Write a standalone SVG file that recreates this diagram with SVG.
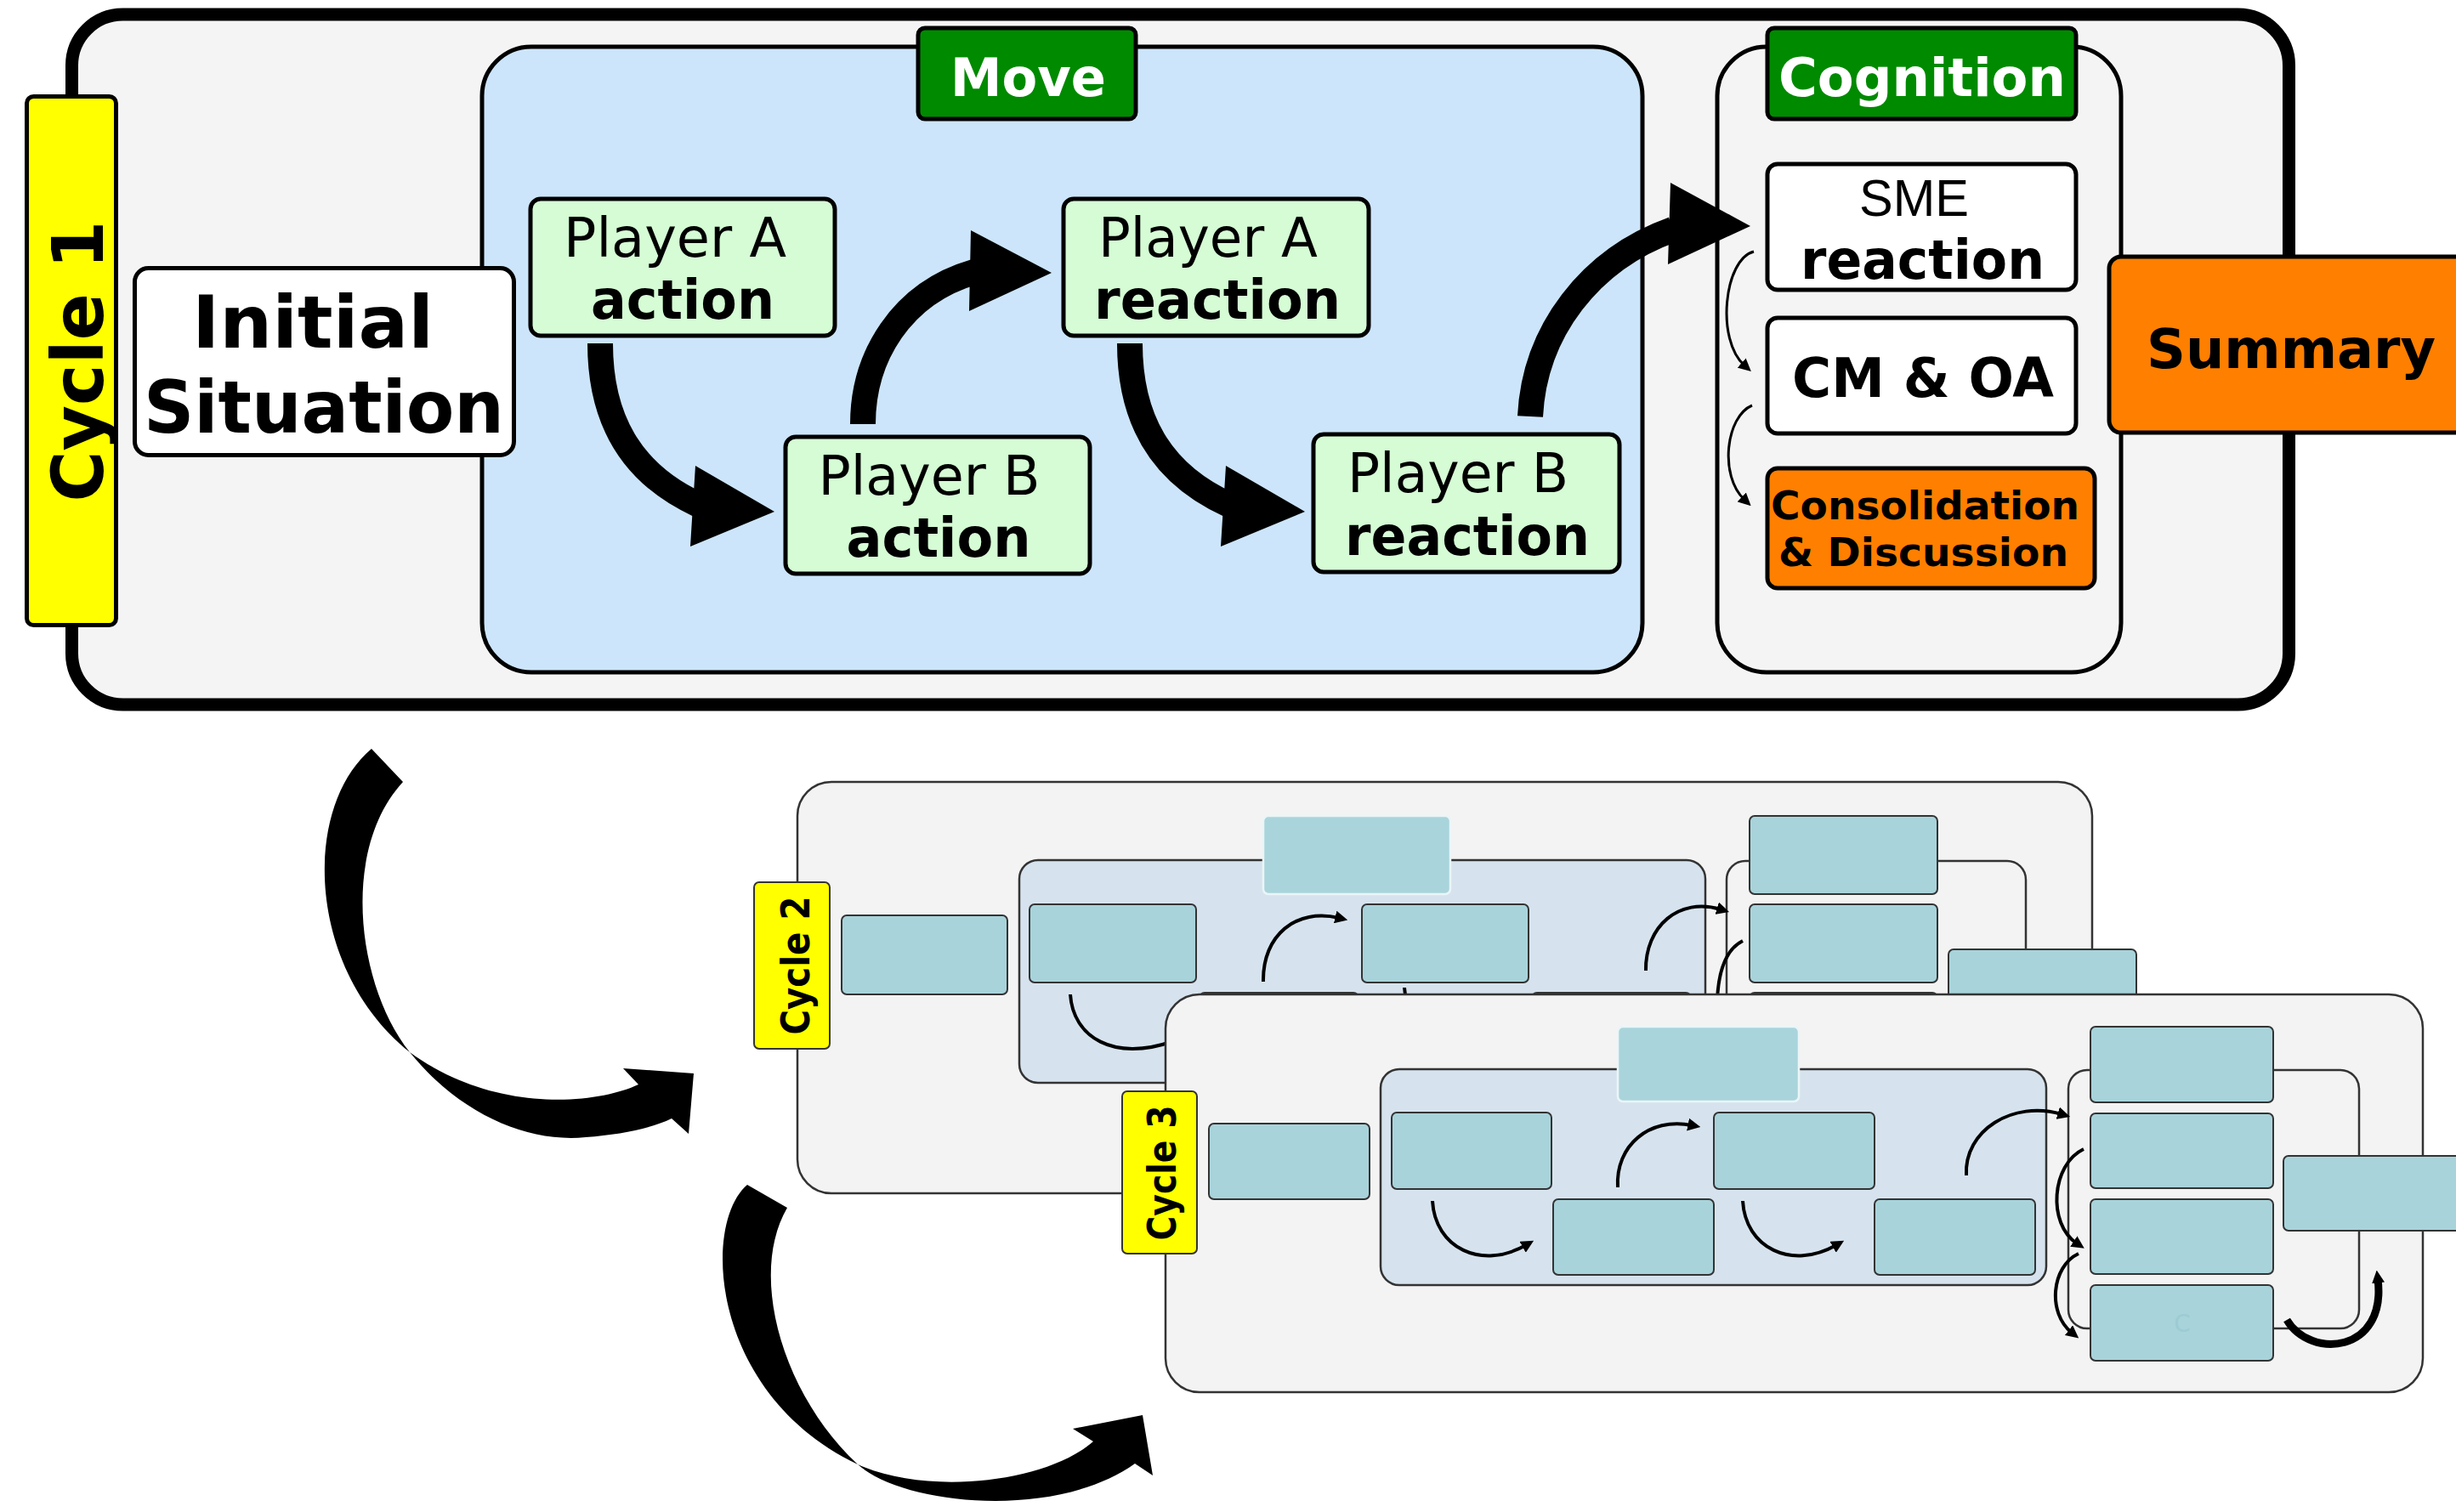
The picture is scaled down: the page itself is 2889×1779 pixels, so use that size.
<svg xmlns="http://www.w3.org/2000/svg" width="2889" height="1779" viewBox="0 0 2889 1779">
  <style>
    .bold { font-family: "DejaVu Sans", "Liberation Sans", sans-serif; font-weight: bold; fill: #000; text-anchor: middle; }
    .reg { font-family: "DejaVu Sans", "Liberation Sans", sans-serif; font-weight: normal; fill: #000; text-anchor: middle; }
    .arial { font-family: "Liberation Sans", Arial, sans-serif; font-weight: normal; fill: #000; text-anchor: middle; }
    .white { fill: #fff; }
    .frame { fill: #f4f4f4; stroke: #000; }
    .move { fill: #cce5fa; stroke: #000; stroke-width: 5; }
    .player { fill: #d5fcd5; stroke: #000; stroke-width: 5; }
    .label { fill: #008a00; stroke: #000; stroke-width: 5; }
    .plain { fill: #fff; stroke: #000; stroke-width: 5; }
    .orange { fill: #ff7f00; stroke: #000; stroke-width: 5; }
    .tab { fill: #ffff00; stroke: #000; stroke-width: 5; }
    .shaft { fill: none; stroke: #000; stroke-width: 30; }
    .head { fill: #000; }
    .thin { fill: none; stroke: #000; stroke-width: 3; marker-end: url(#tip); }
    .mini-frame { fill: #f3f3f3; stroke: #333; stroke-width: 2.5; }
    .mini-move { fill: #d6e3ee; stroke: #333; stroke-width: 2.5; }
    .mini-box { fill: #a8d3db; stroke: #333; stroke-width: 2; }
    .mini-soft { fill: #aad4dc; stroke: #eaf5f7; stroke-width: 2.5; }
    .mini-tab { fill: #ffff00; stroke: #333; stroke-width: 2; }
    .mini-arrow { fill: none; stroke: #000; stroke-width: 4; marker-end: url(#tip); }
  </style>
  <defs>
    <marker id="tip" viewBox="0 0 10 10" refX="3" refY="5" markerWidth="15" markerHeight="15" markerUnits="userSpaceOnUse" orient="auto">
      <path d="M0,0 L10,5 L0,10 z" fill="#000"/>
    </marker>
  </defs>

  <rect width="2889" height="1779" fill="#fff"/>

  <!-- ===== Cycle 1 (full detail) ===== -->
  <g id="cycle1">
    <rect class="frame" x="84.5" y="17" width="2608" height="812" rx="60" stroke-width="15"/>
  </g>
  <g id="cycle1-tab">
    <rect class="tab" x="31.5" y="113.5" width="105" height="622" rx="8"/>
    <text class="bold" font-size="84" transform="translate(121,425) rotate(-90)" textLength="331" lengthAdjust="spacingAndGlyphs">Cycle 1</text>
  </g>
  <g id="move">
    <rect class="move" x="567" y="55" width="1365" height="736" rx="58"/>
  </g>
  <g id="initial-situation">
    <rect class="plain" x="158.5" y="315.5" width="446" height="220" rx="16"/>
    <text class="bold" font-size="86" x="368" y="409" textLength="284" lengthAdjust="spacingAndGlyphs">Initial</text>
    <text class="bold" font-size="86" x="381" y="509" textLength="424" lengthAdjust="spacingAndGlyphs">Situation</text>
  </g>
  <g id="move-label">
    <rect class="label" x="1080" y="33" width="256" height="107" rx="8"/>
    <text class="bold white" font-size="62" x="1209.5" y="113" textLength="183" lengthAdjust="spacingAndGlyphs">Move</text>
  </g>
  <g id="player-a-action">
    <rect class="player" x="624" y="234" width="358" height="161" rx="12"/>
    <text class="reg" font-size="64" x="794" y="302" textLength="262" lengthAdjust="spacingAndGlyphs">Player A</text>
    <text class="bold" font-size="64" x="803" y="375" textLength="216" lengthAdjust="spacingAndGlyphs">action</text>
  </g>
  <g id="player-b-action">
    <rect class="player" x="924" y="514" width="358" height="161" rx="12"/>
    <text class="reg" font-size="64" x="1093" y="582" textLength="261" lengthAdjust="spacingAndGlyphs">Player B</text>
    <text class="bold" font-size="64" x="1104" y="655" textLength="217" lengthAdjust="spacingAndGlyphs">action</text>
  </g>
  <g id="player-a-reaction">
    <rect class="player" x="1251" y="234" width="359" height="161" rx="12"/>
    <text class="reg" font-size="64" x="1421" y="302" textLength="258" lengthAdjust="spacingAndGlyphs">Player A</text>
    <text class="bold" font-size="64" x="1432" y="375" textLength="290" lengthAdjust="spacingAndGlyphs">reaction</text>
  </g>
  <g id="player-b-reaction">
    <rect class="player" x="1545" y="511" width="360" height="162" rx="12"/>
    <text class="reg" font-size="64" x="1715" y="579" textLength="260" lengthAdjust="spacingAndGlyphs">Player B</text>
    <text class="bold" font-size="64" x="1726" y="653" textLength="288" lengthAdjust="spacingAndGlyphs">reaction</text>
  </g>
  <g id="cognition">
    <rect class="frame" x="2020" y="55" width="475" height="736" rx="58" stroke-width="5"/>
  </g>
  <g id="cognition-label">
    <rect class="label" x="2079" y="33" width="363" height="107" rx="8"/>
    <text class="bold white" font-size="62" x="2261" y="113" textLength="338" lengthAdjust="spacingAndGlyphs">Cognition</text>
  </g>
  <g id="sme-reaction">
    <rect class="plain" x="2079" y="193" width="363" height="148" rx="12"/>
    <text class="arial" font-size="61" x="2251.5" y="254" textLength="129" lengthAdjust="spacingAndGlyphs">SME</text>
    <text class="bold" font-size="64" x="2261.5" y="328" textLength="287" lengthAdjust="spacingAndGlyphs">reaction</text>
  </g>
  <g id="cm-oa">
    <rect class="plain" x="2079" y="374" width="363" height="136" rx="12"/>
    <text class="bold" font-size="64" x="2262" y="467" textLength="308" lengthAdjust="spacingAndGlyphs">CM &amp; OA</text>
  </g>
  <g id="consolidation">
    <rect class="orange" x="2079" y="551" width="385" height="141" rx="12"/>
    <text class="bold" font-size="47" x="2264.5" y="611" textLength="363" lengthAdjust="spacingAndGlyphs">Consolidation</text>
    <text class="bold" font-size="47" x="2262.5" y="666" textLength="341" lengthAdjust="spacingAndGlyphs">&amp; Discussion</text>
  </g>
  <g id="summary">
    <rect class="orange" x="2481" y="302" width="440" height="207" rx="14"/>
    <text class="bold" font-size="64" x="2695" y="433" textLength="340" lengthAdjust="spacingAndGlyphs">Summary</text>
  </g>

  <g id="connectors-cycle1">
    <path class="shaft" d="M706,404 C706,500 748,560 822,594"/>
    <polygon class="head" points="818,548 911,602 812,643"/>
    <path class="shaft" d="M1015,499 C1015,420 1060,345 1146,320"/>
    <polygon class="head" points="1142,271 1237,321 1140,366"/>
    <path class="shaft" d="M1329,404 C1329,500 1371,560 1446,594"/>
    <polygon class="head" points="1442,548 1535,602 1436,643"/>
    <path class="shaft" d="M1800,490 C1805,390 1870,305 1968,270"/>
    <polygon class="head" points="1965,215 2059,266 1962,311"/>
    <path class="thin" d="M2063,296 C2028,305 2018,400 2052,430"/>
    <path class="thin" d="M2061,477 C2030,490 2022,560 2052,588"/>
  </g>

  <!-- ===== Cycle 2 (miniature) ===== -->
  <g id="cycle2">
    <rect class="mini-frame" x="938" y="920" width="1523" height="484" rx="40"/>
    <rect class="mini-tab" x="887" y="1038" width="89" height="196" rx="6"/>
    <text class="bold" font-size="46" transform="translate(952,1136) rotate(-90)" textLength="163" lengthAdjust="spacingAndGlyphs">Cycle 2</text>
    <rect class="mini-box" x="990" y="1077" width="195" height="93" rx="6"/>
    <rect class="mini-move" x="1199" y="1012" width="807" height="262" rx="22"/>
    <rect class="mini-soft" x="1486" y="960" width="220" height="92" rx="6"/>
    <rect class="mini-box" x="1211" y="1064" width="196" height="92" rx="6"/>
    <rect class="mini-box" x="1602" y="1064" width="196" height="92" rx="6"/>
    <rect class="mini-box" x="1411" y="1168" width="187" height="92" rx="6"/>
    <rect class="mini-box" x="1802" y="1168" width="187" height="92" rx="6"/>
    <rect class="mini-frame" x="2031" y="1013" width="352" height="300" rx="22" stroke-width="2"/>
    <rect class="mini-box" x="2058" y="960" width="221" height="92" rx="6"/>
    <rect class="mini-box" x="2058" y="1064" width="221" height="92" rx="6"/>
    <rect class="mini-box" x="2058" y="1168" width="221" height="92" rx="6"/>
    <rect class="mini-box" x="2292" y="1117" width="221" height="88" rx="6"/>
  </g>
  <g id="connectors-cycle2">
    <path class="mini-arrow" d="M1259,1170 C1262,1220 1310,1250 1380,1225"/>
    <path class="mini-arrow" d="M1486,1155 C1485,1100 1525,1068 1575,1080"/>
    <path class="mini-arrow" d="M1652,1162 C1655,1215 1710,1248 1780,1225"/>
    <path class="mini-arrow" d="M1936,1142 C1935,1090 1975,1055 2024,1070"/>
    <path class="mini-arrow" d="M2050,1107 C2028,1118 2018,1150 2020,1200"/>
  </g>

  <!-- ===== Cycle 3 (miniature) ===== -->
  <g id="cycle3">
    <rect class="mini-frame" x="1371" y="1170" width="1479" height="468" rx="40"/>
    <rect class="mini-tab" x="1320" y="1284" width="88" height="191" rx="6"/>
    <text class="bold" font-size="46" transform="translate(1383,1380) rotate(-90)" textLength="159" lengthAdjust="spacingAndGlyphs">Cycle 3</text>
    <rect class="mini-box" x="1422" y="1322" width="189" height="89" rx="6"/>
    <rect class="mini-move" x="1624" y="1258" width="783" height="254" rx="22"/>
    <rect class="mini-soft" x="1903" y="1208" width="213" height="88" rx="6"/>
    <rect class="mini-box" x="1637" y="1309" width="188" height="90" rx="6"/>
    <rect class="mini-box" x="1827" y="1411" width="189" height="89" rx="6"/>
    <rect class="mini-box" x="2016" y="1309" width="189" height="90" rx="6"/>
    <rect class="mini-box" x="2205" y="1411" width="189" height="89" rx="6"/>
    <rect class="mini-frame" x="2433" y="1259" width="342" height="304" rx="22" stroke-width="2"/>
    <rect class="mini-box" x="2459" y="1208" width="215" height="89" rx="6"/>
    <rect class="mini-box" x="2459" y="1310" width="215" height="88" rx="6"/>
    <rect class="mini-box" x="2459" y="1411" width="215" height="88" rx="6"/>
    <rect class="mini-box" x="2459" y="1512" width="215" height="89" rx="6"/>
    <text class="reg" font-size="28" x="2567" y="1567" style="fill:#9ccbd3">C</text>
    <rect class="mini-box" x="2686" y="1360" width="250" height="88" rx="6"/>
  </g>
  <g id="connectors-cycle3">
    <path class="mini-arrow" d="M1685,1413 C1688,1468 1742,1495 1795,1465"/>
    <path class="mini-arrow" d="M1903,1397 C1900,1348 1940,1314 1990,1324"/>
    <path class="mini-arrow" d="M2050,1413 C2053,1468 2107,1495 2160,1465"/>
    <path class="mini-arrow" d="M2313,1383 C2310,1330 2368,1294 2425,1311"/>
    <path class="mini-arrow" d="M2451,1352 C2413,1370 2408,1440 2443,1463"/>
    <path class="mini-arrow" d="M2445,1475 C2413,1490 2408,1545 2437,1568"/>
    <path class="mini-arrow" d="M2690,1553 C2718,1600 2808,1592 2797,1505" style="stroke-width:9"/>
  </g>

  <!-- ===== Links between cycles ===== -->
  <g id="connectors-cycles">
    <path class="head" d="M437,881 C355,950 360,1140 482,1238 C540,1310 620,1345 689,1338 C730,1335 765,1328 790,1316 L810,1334 L816,1263 L733,1257 L751,1276 C700,1300 580,1310 482,1238 C420,1160 400,1000 474,920 Z"/>
    <path class="head" d="M879,1394 C825,1440 835,1640 1009,1723 C1060,1770 1240,1790 1335,1722 L1356,1736 L1344,1665 L1262,1681 L1286,1696 C1230,1745 1090,1760 1009,1723 C920,1640 880,1500 926,1421 Z"/>
  </g>
</svg>
